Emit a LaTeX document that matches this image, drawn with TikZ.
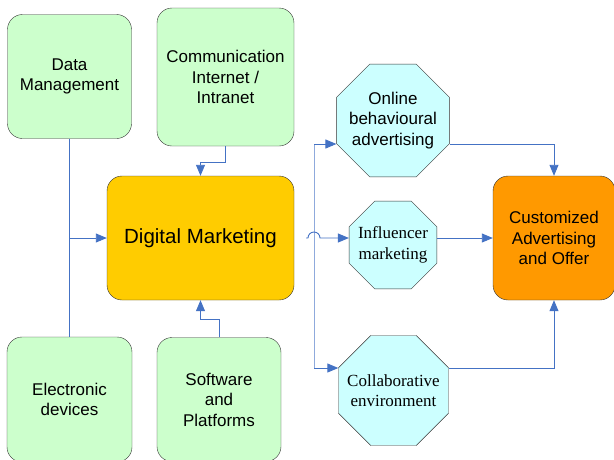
\documentclass[tikz,border=0pt]{standalone}
\usepackage{fontspec}
\setmainfont{Liberation Sans}
\newfontfamily\timesface{Liberation Serif}
\usetikzlibrary{shapes.geometric,arrows.meta}
\definecolor{boxgreen}{HTML}{CCFFCC}
\definecolor{boxcyan}{HTML}{CCFFFF}
\definecolor{dmyellow}{HTML}{FFCC00}
\definecolor{offerorange}{HTML}{FF9900}
\definecolor{linkblue}{HTML}{4472C4}
\definecolor{busblue}{HTML}{8FAADC}
\begin{document}
\begin{tikzpicture}[x=1pt,y=-1pt,
	greenbox/.style={rectangle, rounded corners=15pt, draw=black!80, fill=boxgreen, align=center, font=\fontsize{17}{20.5}\selectfont, minimum width=124pt, minimum height=124pt},
	octshape/.style={regular polygon, regular polygon sides=8, draw=black!80, fill=boxcyan, inner sep=0pt},
	octo/.style={octshape, label={[align=center, font=\fontsize{17}{20.5}\selectfont]center:#1}},
	serifocto/.style={octshape, label={[align=center, font=\timesface\fontsize{17}{20.5}\selectfont]center:#1}},
	link/.style={draw=linkblue, line width=0.9pt},
	bus/.style={draw=busblue, line width=0.9pt},
	arr/.style={link, -{Triangle[length=11pt,width=9pt]}}]
	\useasboundingbox (0,0) rectangle (614,459);
	\node[greenbox] (data) at (69.5,76.5) {Data\\Management};
	\node[greenbox, minimum width=137pt, minimum height=138pt] (comm) at (225.5,77) {Communication\\Internet /\\Intranet};
	\node[greenbox, fill=dmyellow, minimum width=187pt, font=\fontsize{20.5}{24}\selectfont] (dm) at (200.5,238) {Digital Marketing};
	\node[greenbox, minimum width=125pt, minimum height=125pt] (elec) at (69.5,399.5) {Electronic\\devices};
	\node[greenbox] (soft) at (219,399.5) {Software\\and\\Platforms};
	\node[greenbox, fill=offerorange, minimum width=122pt] (offer) at (554,238) {Customized\\Advertising\\and Offer};
	\node[octo={Online\\behavioural\\advertising}, minimum size=122pt] (oba) at (393,120.5) {};
	\node[serifocto={Influencer\\marketing}, minimum size=95pt] (infl) at (393,245) {};
	\node[serifocto={Collaborative\\environment}, minimum size=119pt] (collab) at (393.5,390.5) {};
	\coordinate (dmjoin) at (69.5,238);
	\coordinate (hopin) at (306,238);
	\coordinate (bustop) at (314,144);
	\coordinate (busbot) at (314,368);
	% left side
	\draw[link] (data) -- (elec);
	\draw[arr] (dmjoin) -- (dm.west);
	\draw[arr] (comm.south) -- ++(0,16) -| (dm.north);
	\draw[arr] (soft.north) -- ++(0,-18) -| (dm.south);
	% right side
	\draw[bus] (bustop) -- (busbot);
	\draw[arr] (bustop) -- (bustop -| oba.west);
	\draw[arr] (busbot) -- (busbot -| collab.west);
	\draw[arr] (hopin) -- (308,238) arc[start angle=180, end angle=0, radius=6pt] -- (hopin -| infl.west);
	\draw[arr] (bustop -| oba.east) -| (offer.north);
	\draw[arr] (offer.west -| infl.east) -- (offer.west);
	\draw[arr] (busbot -| collab.east) -| (offer.south);
\end{tikzpicture}
\end{document}
